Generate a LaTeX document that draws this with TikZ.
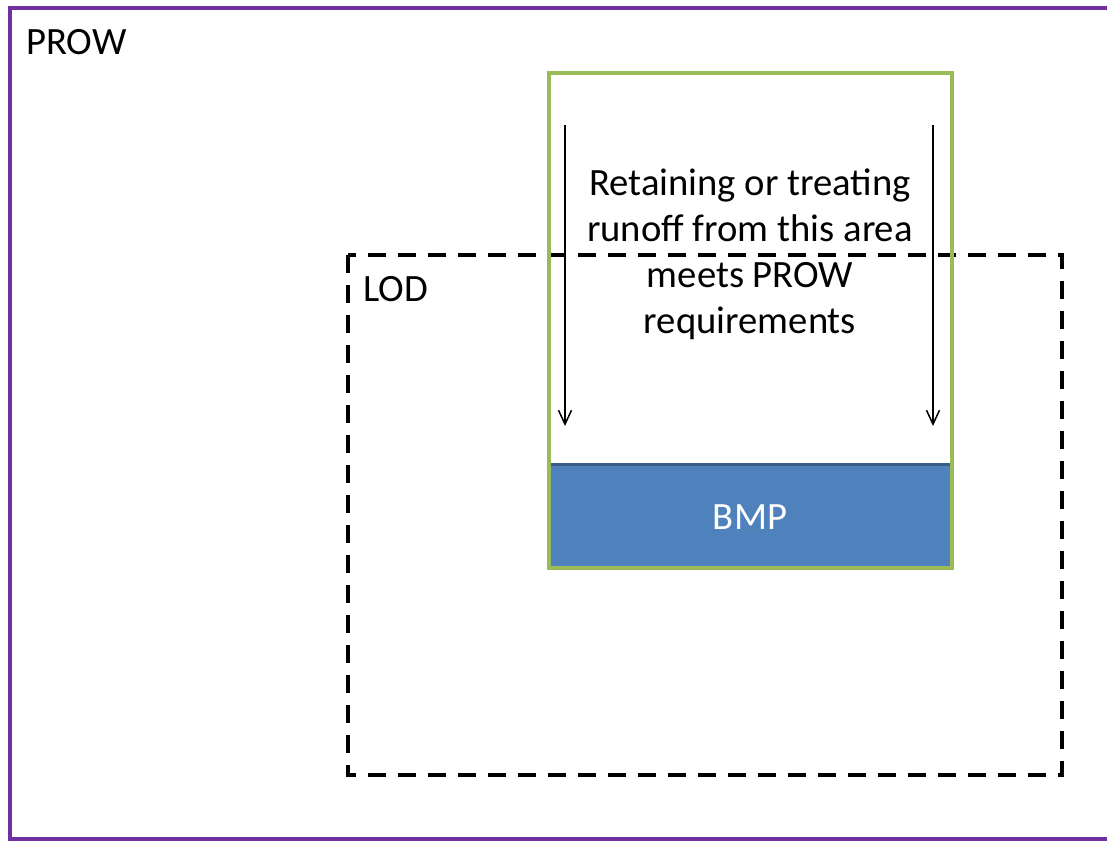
\documentclass[tikz,border=0pt]{standalone}
\usepackage{fontspec}
\setmainfont{Carlito}
\usepackage{xcolor}
\usetikzlibrary{arrows.meta,positioning}

\definecolor{prowpurple}{RGB}{112,48,160}
\definecolor{areagreen}{RGB}{155,187,89}
\definecolor{bmpblue}{RGB}{79,129,189}
\definecolor{bmpedge}{RGB}{56,93,138}

\begin{document}
\begin{tikzpicture}[x=0.02cm,y=-0.02cm,
    label/.style={font=\fontsize{22}{26.2}\selectfont, inner sep=0pt},
    flow/.style={-{Straight Barb[length=0.28cm,width=0.26cm]}, line width=0.85pt}]
    \useasboundingbox (0,0) rectangle (1107,840);
    % outer boundary and limit of disturbance
    \draw[prowpurple, line width=2.3pt] (10,8) rectangle (1125,839);
    \draw[black, line width=2.3pt, dash pattern=on 0.36cm off 0.24cm] (348,255) rectangle (1062,775);
    % drainage area with the BMP at the bottom
    \fill[bmpblue] (551,463) rectangle (950,567);
    \draw[bmpedge, line width=1.7pt] (551,464) -- (950,464);
    \draw[areagreen, line width=2pt] (549,73) rectangle (952,568);
    \node[label, anchor=west] (prow) at (26,42) {PROW};
    \node[label, anchor=west] (lod) at (363,289) {LOD};
    \node[label, white] (bmp) at (750,517) {BMP};
    \node[label, align=center] (note) at (750,254) {Retaining or treating\\runoff from this area\\meets PROW\\requirements};
    \coordinate (l1) at (565,125);
    \coordinate (l2) at (565,426);
    \coordinate (r1) at (933,125);
    \coordinate (r2) at (933,426);
    \draw[flow] (l1) -- (l2);
    \draw[flow] (r1) -- (r2);
\end{tikzpicture}
\end{document}
